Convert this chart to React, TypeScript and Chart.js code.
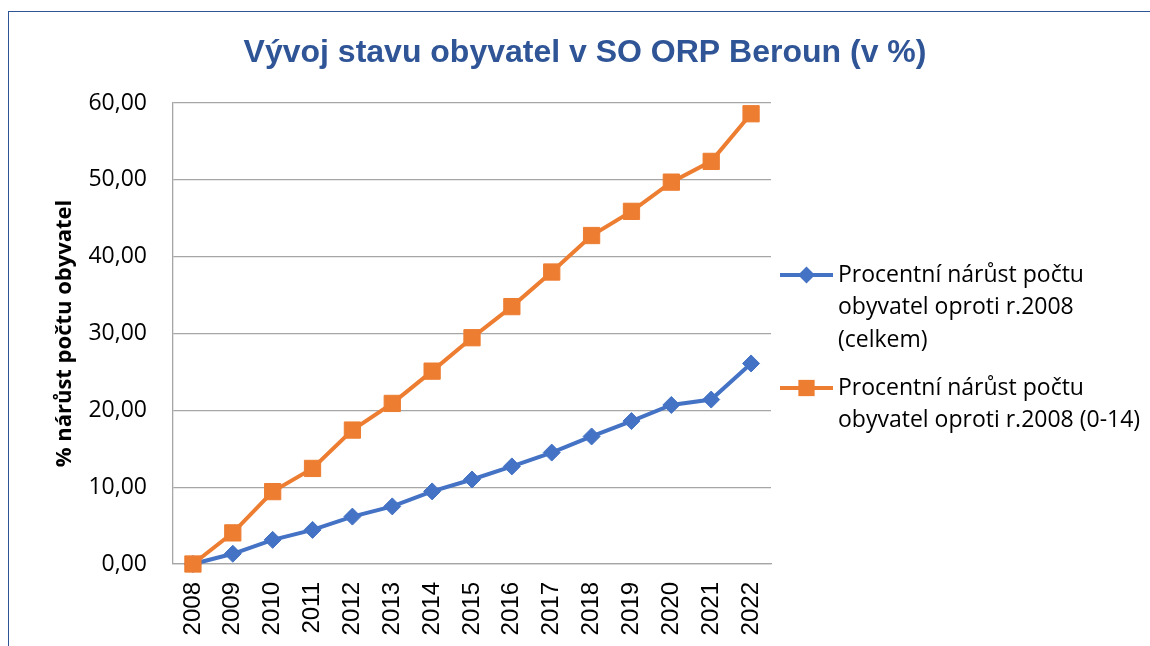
import React, { useEffect, useRef } from "react";
import { Chart, registerables } from "chart.js";

Chart.register(...registerables);

const years = ["2008", "2009", "2010", "2011", "2012", "2013", "2014", "2015", "2016", "2017", "2018", "2019", "2020", "2021", "2022"];
const totalGrowth = [0, 1.33, 3.14, 4.44, 6.17, 7.5, 9.45, 11.0, 12.7, 14.5, 16.6, 18.6, 20.7, 21.4, 26.1];
const childGrowth = [0, 4.05, 9.42, 12.44, 17.43, 20.9, 25.1, 29.45, 33.5, 38.0, 42.75, 45.9, 49.7, 52.4, 58.6];
const yMin = 0;
const yMax = 60;
const yStep = 10;
const chartTitle = "Vývoj stavu obyvatel v SO ORP Beroun (v %)";
const yAxisTitle = "% nárůst počtu obyvatel";
const totalLegendLines = ["Procentní nárůst počtu", "obyvatel oproti r.2008", "(celkem)"];
const childLegendLines = ["Procentní nárůst počtu", "obyvatel oproti r.2008 (0-14)"];

const BLUE = "#4472C4";
const ORANGE = "#ED7D31";
const GRID = "#A6A6A6";

const legendLinesByIndex = [totalLegendLines, childLegendLines];

const decorPlugin = {
  id: "decor",
  afterDraw(chart: any) {
    const ctx = chart.ctx as CanvasRenderingContext2D;
    ctx.save();
    // title
    ctx.font = 'bold 32px "Liberation Sans"';
    ctx.fillStyle = "#2F5597";
    ctx.textAlign = "center";
    ctx.textBaseline = "middle";
    ctx.fillText(chartTitle, 576, 41);

    // legend
    const itemTops = [263, 376];
    const lineGap = 32.5;
    const lineX1 = 771;
    const lineX2 = 824;
    const markerX = 797.5;
    const textX = 829;
    chart.data.datasets.forEach((ds: any, i: number) => {
      const y = itemTops[i];
      ctx.strokeStyle = ds.borderColor;
      ctx.lineWidth = ds.borderWidth;
      ctx.beginPath();
      ctx.moveTo(lineX1, y);
      ctx.lineTo(lineX2, y);
      ctx.stroke();
      ctx.fillStyle = ds.pointBackgroundColor;
      const r = ds.pointRadius;
      ctx.beginPath();
      if (ds.pointStyle === "rectRot") {
        ctx.moveTo(markerX - r, y);
        ctx.lineTo(markerX, y - r);
        ctx.lineTo(markerX + r, y);
        ctx.lineTo(markerX, y + r);
        ctx.closePath();
      } else {
        const s = r * Math.SQRT1_2;
        ctx.rect(markerX - s, y - s, 2 * s, 2 * s);
      }
      ctx.fill();
      ctx.font = '23px "Open Sans"';
      ctx.fillStyle = "#000000";
      ctx.textAlign = "left";
      ctx.textBaseline = "middle";
      legendLinesByIndex[i].forEach((line, j) => {
        ctx.fillText(line, textX, y + j * lineGap);
      });
    });
    ctx.restore();
  },
};

export default function App() {
  const canvasRef = useRef<HTMLCanvasElement | null>(null);

  useEffect(() => {
    if (!canvasRef.current) return;
    const chart = new Chart(canvasRef.current, {
      type: "line",
      data: {
        labels: years,
        datasets: [
          {
            label: totalLegendLines.join(" "),
            data: totalGrowth,
            borderColor: BLUE,
            backgroundColor: BLUE,
            pointBackgroundColor: BLUE,
            pointBorderColor: BLUE,
            borderWidth: 4,
            pointStyle: "rectRot",
            pointRadius: 8.5,
            pointBorderWidth: 1,
            tension: 0,
            clip: false,
            order: 1,
          } as any,
          {
            label: childLegendLines.join(" "),
            data: childGrowth,
            borderColor: ORANGE,
            backgroundColor: ORANGE,
            pointBackgroundColor: ORANGE,
            pointBorderColor: ORANGE,
            borderWidth: 4,
            pointStyle: "rect",
            pointRadius: 11.5,
            pointBorderWidth: 1,
            tension: 0,
            clip: false,
            order: 0,
          } as any,
        ],
      },
      options: {
        animation: false,
        responsive: false,
        maintainAspectRatio: false,
        layout: { padding: { top: 91, right: 379, bottom: 0, left: 0 } },
        plugins: {
          legend: { display: false },
          title: { display: false },
          tooltip: { enabled: false },
        },
        scales: {
          x: {
            type: "category",
            offset: true,
            grid: { display: false, drawTicks: false },
            border: { display: true, color: GRID, width: 1.3 },
            ticks: {
              autoSkip: false,
              minRotation: 90,
              maxRotation: 90,
              padding: 18,
              color: "#000000",
              font: { family: '"Liberation Sans"', size: 24 },
            },
            afterFit: (scale: any) => {
              scale.height = 82;
            },
          },
          y: {
            min: yMin,
            max: yMax,
            grid: { color: GRID, lineWidth: 1.3, drawTicks: false },
            border: { display: true, color: GRID, width: 1.3 },
            ticks: {
              stepSize: yStep,
              padding: 26,
              color: "#000000",
              font: { family: '"Open Sans"', size: 23 },
              callback: (v: any) => Number(v).toFixed(2).replace(".", ","),
            },
            title: {
              display: true,
              text: yAxisTitle,
              color: "#000000",
              font: { family: '"Open Sans"', size: 22, weight: "bold" },
              padding: { top: 43, bottom: 0 },
            },
            afterFit: (scale: any) => {
              scale.width = 164;
            },
          },
        },
      },
      plugins: [decorPlugin],
    } as any);
    return () => chart.destroy();
  }, []);

  return (
    <div
      style={{
        position: "absolute",
        left: 8,
        top: 11,
        width: 1142,
        height: 635,
        boxSizing: "border-box",
        borderTop: "1px solid #2F5597",
        borderLeft: "1px solid #2F5597",
        background: "#ffffff",
        overflow: "hidden",
      }}
    >
      <canvas ref={canvasRef} width={1141} height={634} style={{ display: "block" }} />
    </div>
  );
}
